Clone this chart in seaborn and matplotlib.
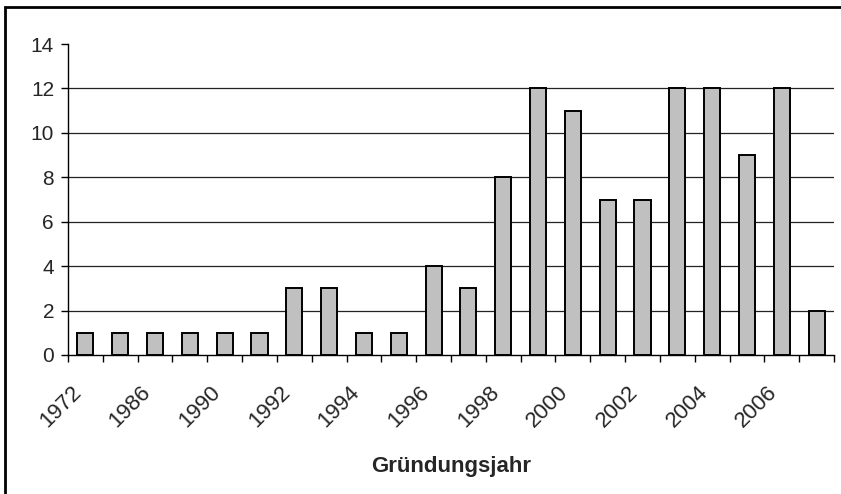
import matplotlib
matplotlib.use("Agg")
import matplotlib.pyplot as plt
from matplotlib.patches import Rectangle
import pandas as pd
import seaborn as sns

# founding years (every second label is shown on the axis)
years = ["1972", "1985", "1986", "1988", "1990", "1991", "1992", "1993",
         "1994", "1995", "1996", "1997", "1998", "1999", "2000", "2001",
         "2002", "2003", "2004", "2005", "2006", "2007"]
counts = [1, 1, 1, 1, 1, 1, 3, 3, 1, 1, 4, 3, 8, 12, 11, 7, 7, 12, 12, 9, 12, 2]
y_ticks = [0, 2, 4, 6, 8, 10, 12, 14]

df = pd.DataFrame({"jahr": years, "anzahl": counts})

sns.set_style("white")
plt.rcParams["font.family"] = ["Liberation Sans", "DejaVu Sans"]

fig = plt.figure(figsize=(8.41, 4.94), dpi=100)
ax = fig.add_axes([68 / 841, 1 - 355 / 494, 766 / 841, 311 / 494])

sns.barplot(data=df, x="jahr", y="anzahl", order=years, color="#C0C0C0",
            edgecolor="black", linewidth=1.4, width=0.46, saturation=1,
            ax=ax, zorder=3)

ax.set_yticks(y_ticks)
ax.set_yticklabels([str(t) for t in y_ticks], fontsize=15)

# gridlines at 2..12, none at the top
for t in y_ticks[1:-1]:
    ax.axhline(t, color="#222222", linewidth=0.9, zorder=1)

# labels at every second category (rotated, ending left of the bar like
# in Excel), ticks at the category boundaries
shown = list(range(0, len(years), 2))
ax.set_xticks(shown)
ax.set_xticklabels([years[i] for i in shown], rotation=45, ha="right",
                   va="bottom", rotation_mode="anchor", fontsize=16)
ax.set_xticks([i - 0.5 for i in range(len(years) + 1)], minor=True)
ax.tick_params(axis="x", which="major", length=0, pad=30)
ax.tick_params(axis="x", which="minor", bottom=True, length=5, width=1,
               direction="out", color="black")
ax.tick_params(axis="y", length=5, width=1, direction="out", color="black",
               left=True, pad=5)

ax.set_xlim(-0.5, len(years) - 0.5)
ax.set_ylim(0, 14)

ax.set_xlabel("Gründungsjahr", fontsize=16, fontweight="bold")
ax.xaxis.set_label_coords(0.5, -0.36)
ax.xaxis.label.set_va("center")
ax.set_ylabel("")

for side in ["top", "right"]:
    ax.spines[side].set_visible(False)
for side in ["left", "bottom"]:
    ax.spines[side].set_color("black")
    ax.spines[side].set_linewidth(1)

# outer frame around the chart
fig.patches.append(Rectangle((5 / 841, -0.05), 1.0, 1 - 7 / 494 + 0.05,
                             transform=fig.transFigure, fill=False,
                             edgecolor="black", linewidth=2))

fig.savefig("out.png", dpi=100)
